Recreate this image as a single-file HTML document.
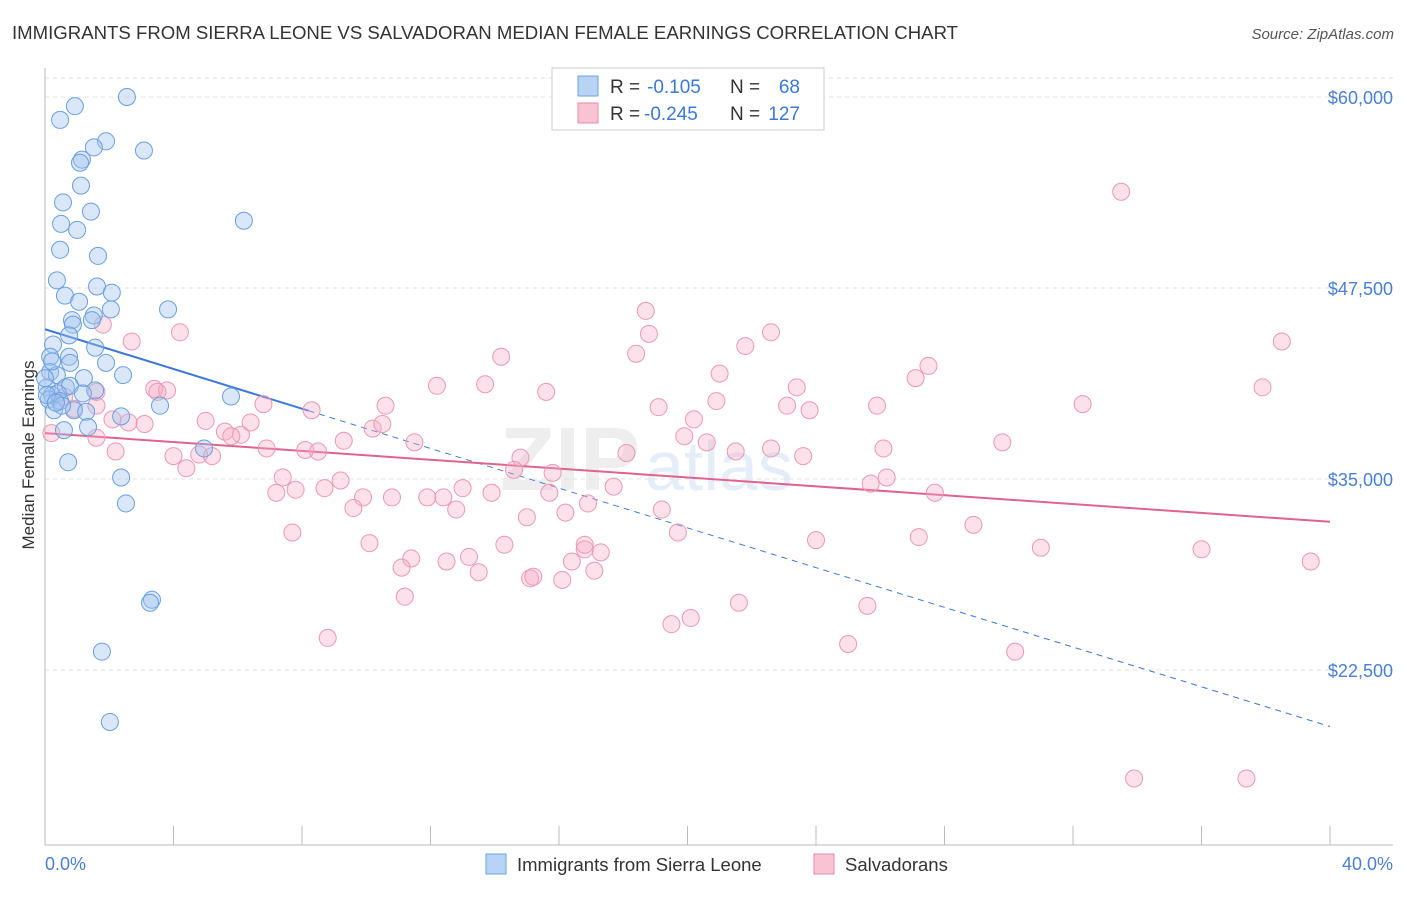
<!DOCTYPE html>
<html><head><meta charset="utf-8"><style>
body{margin:0;background:#fff;font-family:"Liberation Sans",sans-serif;}
svg text{font-family:"Liberation Sans",sans-serif;}
</style></head><body>
<svg id="chart" width="1406" height="892">
<text x="12" y="39" font-size="18.6" fill="#333">IMMIGRANTS FROM SIERRA LEONE VS SALVADORAN MEDIAN FEMALE EARNINGS CORRELATION CHART</text>
<text x="1394" y="39" font-size="15" fill="#555" font-style="italic" text-anchor="end">Source: ZipAtlas.com</text>
<text x="640" y="490" font-size="90" fill="#eeeeee" text-anchor="end" font-weight="bold">ZIP</text>
<text x="645" y="490" font-size="70" fill="#e4edf8">atlas</text>
<g id="grid"></g>
<g id="axes"></g>
<g id="lines"></g>
<g id="pts"></g>
<text transform="translate(34,455) rotate(-90)" font-size="17" fill="#333" text-anchor="middle">Median Female Earnings</text>
<text x="45" y="870" font-size="18" fill="#4a7fd4">0.0%</text>
<text x="1393" y="870" font-size="18" fill="#4a7fd4" text-anchor="end">40.0%</text>
<g>
<rect x="552" y="68" width="272" height="62" fill="#fff" stroke="#ccc"/>
<rect x="578" y="76" width="20" height="20" fill="#b8d3f3" stroke="#6a9fe0"/>
<rect x="578" y="103" width="20" height="20" fill="#f8c4d4" stroke="#e88aa8"/>
<text x="610" y="93" font-size="19" fill="#333">R =</text>
<text x="647" y="93" font-size="19" fill="#3b78d8">-0.105</text>
<text x="730" y="93" font-size="19" fill="#333">N =</text>
<text x="800" y="93" font-size="19" fill="#3b78d8" text-anchor="end">68</text>
<text x="610" y="120" font-size="19" fill="#333">R =</text>
<text x="644" y="120" font-size="19" fill="#3b78d8">-0.245</text>
<text x="730" y="120" font-size="19" fill="#333">N =</text>
<text x="800" y="120" font-size="19" fill="#3b78d8" text-anchor="end">127</text>
</g>
<g>
<rect x="486" y="854" width="20" height="20" fill="#b8d3f3" stroke="#6a9fe0"/>
<text x="517" y="871" font-size="18.5" fill="#333">Immigrants from Sierra Leone</text>
<rect x="814" y="854" width="20" height="20" fill="#f8c4d4" stroke="#e88aa8"/>
<text x="845" y="871" font-size="18.5" fill="#333">Salvadorans</text>
</g>
</svg>
<script>
const yTicks=[22500,35000,47500,60000];
const yTickLabels=["$22,500","$35,000","$47,500","$60,000"];
const xTicks=[0,4,8,12,16,20,24,28,32,36,40];
const blueX=[2.55,0.93,0.47,1.90,3.08,1.52,1.15,1.09,1.12,0.56,1.43,0.50,1.00,6.19,0.47,1.65,0.37,0.62,1.62,2.08,1.06,2.05,3.83,1.52,0.84,0.87,1.46,0.75,0.25,1.56,0.16,0.75,0.78,1.90,2.43,0.16,0.37,1.21,0.06,0.65,0.78,1.56,0.22,0.40,0.12,0.47,1.18,0.28,0.90,1.28,3.58,5.79,2.37,0.59,1.34,4.95,0.72,2.37,2.52,3.33,3.27,1.77,2.02,0.22,0.06,0.53,0.34,0.0];
const blueY=[60.0,59.4,58.5,57.1,56.5,56.7,55.9,55.7,54.2,53.1,52.5,51.7,51.3,51.9,50.0,49.6,48.0,47.0,47.6,47.2,46.6,46.1,46.1,45.7,45.4,45.1,45.4,44.4,43.8,43.6,43.0,43.0,42.6,42.6,41.8,42.0,41.8,41.6,41.0,41.0,41.1,40.8,40.5,40.6,40.2,40.1,40.6,39.5,39.5,39.4,39.8,40.4,39.1,38.2,38.4,37.0,36.1,35.1,33.4,27.1,26.9,23.7,19.1,42.7,40.5,39.8,40.0,41.6];
const pinkX=[33.5,18.7,22.6,4.2,18.8,1.8,2.7,21.8,18.4,14.2,27.5,38.5,27.1,21.0,12.2,13.7,23.4,15.6,37.9,3.4,3.8,3.5,20.9,23.1,23.8,19.1,25.9,32.3,8.3,10.6,6.8,1.6,0.6,0.9,1.6,2.1,2.6,3.1,5.0,5.6,6.1,6.4,5.8,10.2,10.5,9.3,11.5,0.2,1.6,20.2,19.9,20.6,18.1,21.5,22.6,23.6,26.1,29.8,4.8,5.2,4.0,4.4,2.2,6.9,8.1,8.5,7.4,14.8,14.6,15.8,17.7,26.2,25.7,13.0,12.4,9.9,13.9,7.2,7.8,8.7,9.2,10.8,11.9,27.7,15.7,16.9,12.8,9.6,16.2,15.0,19.2,19.7,28.9,24.0,27.2,31.0,36.0,39.4,10.1,11.4,12.5,13.2,14.3,16.8,17.3,7.7,11.1,13.5,15.1,16.1,17.1,11.2,21.6,25.6,20.1,19.5,8.8,25.0,30.2,33.9,37.4,16.8,16.4,15.2];
const pinkY=[53.8,46.0,44.6,44.6,44.5,45.1,44.0,43.7,43.2,43.0,42.4,44.0,41.6,41.9,41.1,41.2,41.0,40.7,41.0,40.9,40.8,40.7,40.1,39.8,39.5,39.7,39.8,39.9,39.5,39.8,39.9,40.7,40.4,39.6,39.8,38.9,38.7,38.6,38.8,38.1,37.9,38.7,37.8,38.3,38.6,37.5,37.4,38.0,37.7,38.9,37.8,37.4,36.7,36.8,37.0,36.5,37.0,37.4,36.6,36.5,36.5,35.7,36.8,37.0,36.9,36.8,35.1,36.4,35.6,35.4,34.5,35.1,34.7,34.4,33.8,33.8,34.1,34.1,34.3,34.4,34.9,33.8,33.8,34.1,34.1,33.4,33.0,33.1,32.8,32.5,33.0,31.5,32.0,31.0,31.2,30.5,30.4,29.6,30.8,29.8,29.6,29.9,30.7,30.4,30.2,31.5,29.2,28.9,28.5,28.4,29.0,27.3,26.9,26.7,25.9,25.5,24.6,24.2,23.7,15.4,15.4,30.7,29.6,28.6];
const blueTrend=[44.8,18.8];
const blueSolidEnd=8.2;
const pinkTrend=[38.0,32.2];
const NS="http://www.w3.org/2000/svg";
const sx=v=>45+v/40*1285;
const sy=v=>97+(60-v)*15.28;
function mk(tag,attrs,parent){const e=document.createElementNS(NS,tag);for(const k in attrs)e.setAttribute(k,attrs[k]);parent.appendChild(e);return e;}
const grid=document.getElementById('grid'),axes=document.getElementById('axes'),lines=document.getElementById('lines'),pts=document.getElementById('pts');
yTicks.forEach((t,i)=>{const y=sy(t/1000);
const l=mk('line',{x1:45,x2:1393,y1:y,y2:y,stroke:'#e2e2e2','stroke-dasharray':'4,4'},grid);


const tx=mk('text',{x:1393,y:y+7,'font-size':18,fill:'#4a7fd4','text-anchor':'end'},axes);tx.textContent=yTickLabels[i];

});
const tl=mk('line',{x1:45,x2:1393,y1:78,y2:78,stroke:'#e2e2e2','stroke-dasharray':'4,4'},grid);


const ya=mk('line',{x1:45,x2:45,y1:68,y2:845,stroke:'#bbb'},axes);


const xa=mk('line',{x1:45,x2:1393,y1:845,y2:845,stroke:'#bbb'},axes);


xTicks.forEach(t=>{const x=sx(t);const k=mk('line',{x1:x,x2:x,y1:826,y2:845,stroke:'#bbb'},axes);

});
const bm=blueTrend[0]+(blueTrend[1]-blueTrend[0])*blueSolidEnd/40;
const b1=mk('line',{x1:sx(0),y1:sy(blueTrend[0]),x2:sx(blueSolidEnd),y2:sy(bm),stroke:'#3b78d8','stroke-width':2},lines);


const b2=mk('line',{x1:sx(blueSolidEnd),y1:sy(bm),x2:sx(40),y2:sy(blueTrend[1]),stroke:'#3b78d8','stroke-width':1,'stroke-dasharray':'6,5'},lines);


const p1=mk('line',{x1:sx(0),y1:sy(pinkTrend[0]),x2:sx(40),y2:sy(pinkTrend[1]),stroke:'#e0628e','stroke-width':2},lines);


pinkX.forEach((x,i)=>{const c=mk('circle',{cx:sx(x),cy:sy(pinkY[i]),r:8.5,fill:'rgba(245,170,195,0.35)',stroke:'#eb98b3','stroke-width':1},pts);

});
blueX.forEach((x,i)=>{const c=mk('circle',{cx:sx(x),cy:sy(blueY[i]),r:8.5,fill:'rgba(160,195,240,0.4)',stroke:'#6a9fe0','stroke-width':1},pts);

});
</script>
</body></html>
